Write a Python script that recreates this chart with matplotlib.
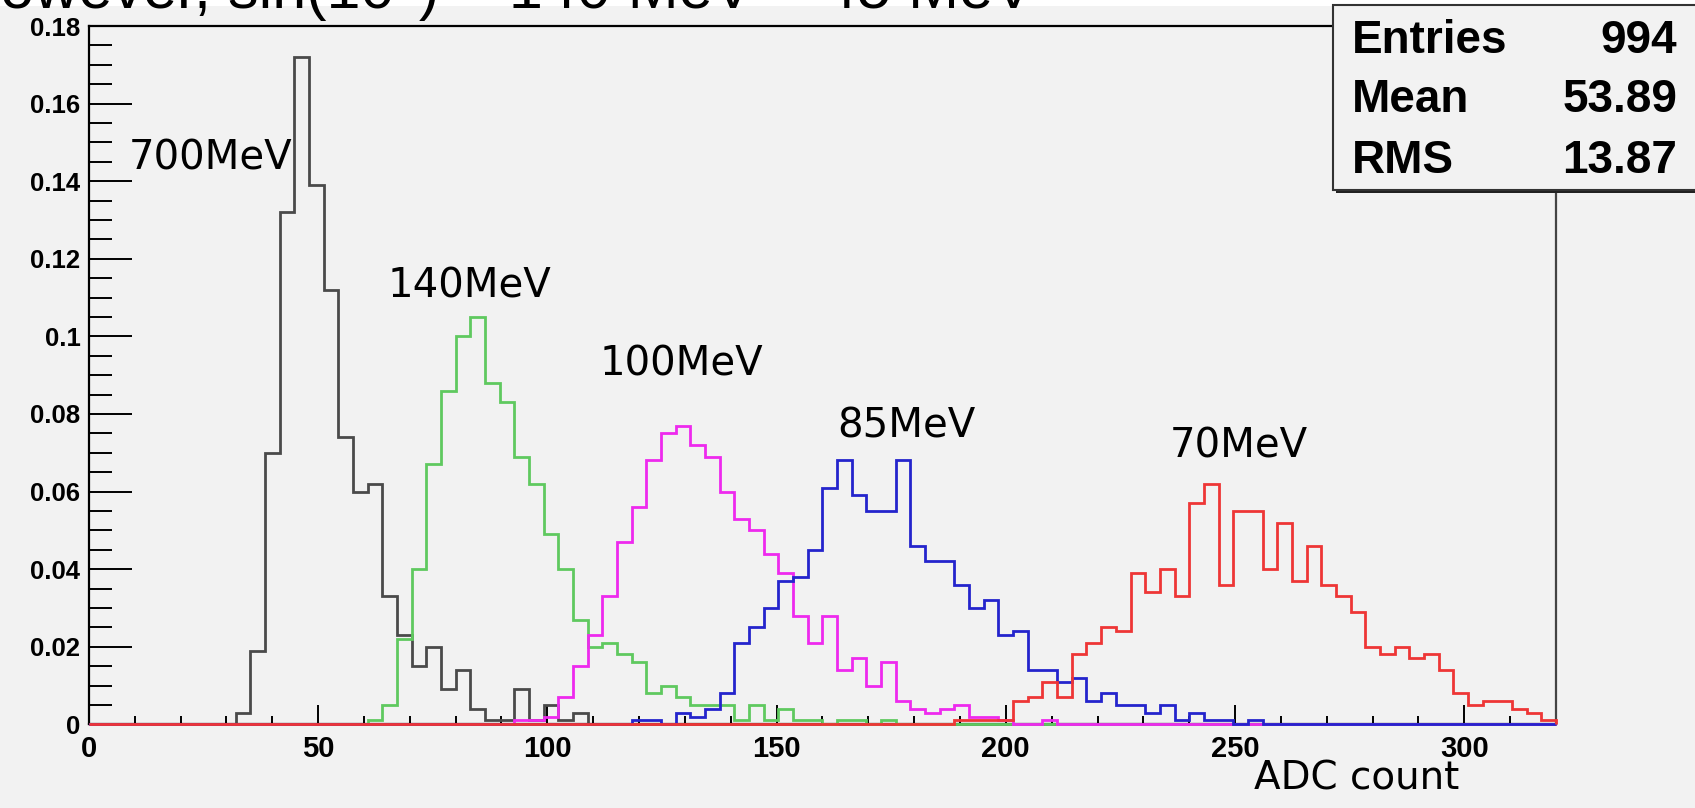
import numpy as np
import matplotlib
matplotlib.use("Agg")
import matplotlib.pyplot as plt
from matplotlib.patches import Rectangle
from matplotlib.ticker import MultipleLocator

# 100 bins over 0..320 ADC counts, normalised contents
n_bins = 100
x_max = 320

# each histogram: first non-empty bin, then the bin contents
h700_start = 10
h700 = [0.003, 0.019, 0.070, 0.132, 0.172, 0.139, 0.112, 0.074, 0.060, 0.062,
        0.033, 0.023, 0.015, 0.020, 0.009, 0.014, 0.004, 0.001, 0.001, 0.009,
        0.001, 0.005, 0.001, 0.003]

h140_start = 19
h140 = [0.001, 0.005, 0.022, 0.040, 0.067, 0.086, 0.100, 0.105, 0.088, 0.083,
        0.069, 0.062, 0.049, 0.040, 0.027, 0.020, 0.021, 0.018, 0.016, 0.008,
        0.010, 0.007, 0.005, 0.005, 0.005, 0.001, 0.005, 0.001, 0.004, 0.001,
        0.001, 0.0, 0.001, 0.001, 0.0, 0.001]

h100_start = 29
h100 = [0.001, 0.001, 0.002, 0.007, 0.015, 0.023, 0.033, 0.047, 0.056, 0.068,
        0.075, 0.077, 0.072, 0.069, 0.060, 0.053, 0.050, 0.044, 0.039, 0.028,
        0.021, 0.028, 0.014, 0.017, 0.010, 0.016, 0.006, 0.004, 0.003, 0.004,
        0.005, 0.002, 0.002, 0.001, 0.0, 0.0, 0.001]

h85_start = 37
h85 = [0.001, 0.001, 0.0, 0.003, 0.002, 0.004, 0.008, 0.021, 0.025, 0.030,
       0.037, 0.038, 0.045, 0.061, 0.068, 0.059, 0.055, 0.055, 0.068, 0.046,
       0.042, 0.042, 0.036, 0.030, 0.032, 0.023, 0.024, 0.014, 0.014, 0.011,
       0.012, 0.006, 0.008, 0.005, 0.005, 0.003, 0.005, 0.001, 0.003, 0.001,
       0.001, 0.0, 0.001]

h70_start = 59
h70 = [0.001, 0.001, 0.001, 0.001, 0.006, 0.007, 0.011, 0.007, 0.018, 0.021,
       0.025, 0.024, 0.039, 0.034, 0.040, 0.033, 0.057, 0.062, 0.036, 0.055,
       0.055, 0.040, 0.052, 0.037, 0.046, 0.036, 0.033, 0.029, 0.020, 0.018,
       0.020, 0.017, 0.018, 0.014, 0.008, 0.005, 0.006, 0.006, 0.004, 0.003,
       0.001]

labels = ["700MeV", "140MeV", "100MeV", "85MeV", "70MeV"]
label_pos = [(8.8, 0.143), (65.2, 0.110), (111.4, 0.090), (163.2, 0.0738), (235.8, 0.0687)]

stats_names = ["Entries", "Mean", "RMS"]
stats_values = ["994", "53.89", "13.87"]

y_ticks = [0, 0.02, 0.04, 0.06, 0.08, 0.1, 0.12, 0.14, 0.16, 0.18]
y_ticklabels = ["0", "0.02", "0.04", "0.06", "0.08", "0.1", "0.12", "0.14", "0.16", "0.18"]
x_ticks = [0, 50, 100, 150, 200, 250, 300]

bg = "#f2f2f2"
W, H = 1695, 808


def full(start, vals):
    h = np.zeros(n_bins)
    h[start:start + len(vals)] = vals
    return h


edges = np.linspace(0, x_max, n_bins + 1)
hists = [full(h700_start, h700), full(h140_start, h140), full(h100_start, h100),
         full(h85_start, h85), full(h70_start, h70)]
colors = ["#4a4a4a", "#5fc95f", "#ee2aee", "#2424cc", "#ee3636"]

fig = plt.figure(figsize=(W / 100, H / 100), dpi=100)
fig.patch.set_facecolor(bg)
# white strip at the very top (slide background), caption cut off by the crop
fig.patches.append(Rectangle((0, 1 - 6 / H), 1, 6 / H, transform=fig.transFigure,
                             facecolor="white", edgecolor="none", zorder=0))
fig.text(-44 / W, 1 - 8 / H, "However, sin(10°) ~ 140 MeV ~ 45 MeV", fontsize=44,
         family="Liberation Sans", va="baseline", ha="left", color="black")

ax = fig.add_axes([88.8 / W, (H - 724.3) / H, (1556 - 88.8) / W, (724.3 - 26) / H])
ax.set_facecolor(bg)
ax.set_xlim(0, x_max)
ax.set_ylim(0, 0.18)

for h, c in zip(hists, colors):
    ax.stairs(h, edges, color=c, lw=2.0, baseline=0, clip_on=False, zorder=3)

for s in ["left", "top", "bottom"]:
    ax.spines[s].set_color("black")
    ax.spines[s].set_linewidth(1.6)
ax.spines["right"].set_color("#444444")
ax.spines["right"].set_linewidth(1.6)

ax.set_xticks(x_ticks)
ax.set_xticklabels([str(v) for v in x_ticks])
ax.xaxis.set_minor_locator(MultipleLocator(10))
ax.set_yticks(y_ticks)
ax.set_yticklabels(y_ticklabels)
ax.yaxis.set_minor_locator(MultipleLocator(0.005))
ax.tick_params(axis="x", which="major", direction="in", length=14, width=1.4, pad=8)
ax.tick_params(axis="x", which="minor", direction="in", length=6, width=1.4)
ax.tick_params(axis="y", which="major", direction="in", length=31, width=1.4, pad=6)
ax.tick_params(axis="y", which="minor", direction="in", length=16.5, width=1.4)
for t in ax.get_xticklabels():
    t.set_family("Liberation Sans")
    t.set_fontweight("bold")
    t.set_fontsize(21)
for t in ax.get_yticklabels():
    t.set_family("Liberation Sans")
    t.set_fontweight("bold")
    t.set_fontsize(18.5)

for txt, (lx, ly) in zip(labels, label_pos):
    ax.text(lx, ly, txt, fontsize=29, family="DejaVu Sans", va="baseline", ha="left",
            color="black", zorder=4)

fig.text(1459 / W, (H - 790) / H, "ADC count", fontsize=28, family="DejaVu Sans",
         ha="right", va="baseline")

# stats box
bx0, by0, by1 = 1333 / W, (H - 190) / H, (H - 5) / H
fig.patches.append(Rectangle((bx0 + 3 / W, by0 - 3 / H), 1.0, by1 - by0,
                             transform=fig.transFigure, facecolor="#222222",
                             edgecolor="none", zorder=5))
fig.patches.append(Rectangle((bx0, by0), 1.0, by1 - by0, transform=fig.transFigure,
                             facecolor=bg, edgecolor="#333333", lw=1.5, zorder=6))
for name, val, base in zip(stats_names, stats_values, [53, 112, 173]):
    fig.text(1352 / W, (H - base) / H, name, fontsize=33, fontweight="bold",
             family="Liberation Sans", va="baseline", ha="left", zorder=7)
    fig.text(1677 / W, (H - base) / H, val, fontsize=33, fontweight="bold",
             family="Liberation Sans", va="baseline", ha="right", zorder=7)

fig.savefig("out.png", dpi=100, facecolor=fig.get_facecolor())
